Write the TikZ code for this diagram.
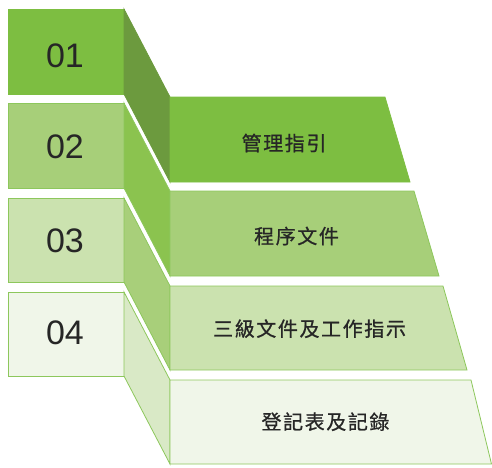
\documentclass[tikz,border=0pt]{standalone}
\usepackage{fontspec}
\setmainfont{Liberation Sans}
\newfontfamily\cjk[FakeBold=0.8]{Noto Sans CJK TC}
\newcommand\sgap{\hspace{1.6pt}}
\definecolor{fA}{HTML}{7DBE41}
\definecolor{sA}{HTML}{6C9A3E}
\definecolor{fB}{HTML}{A7CF79}
\definecolor{sB}{HTML}{8BC34F}
\definecolor{fC}{HTML}{CBE2AF}
\definecolor{sC}{HTML}{A8CF7A}
\definecolor{fD}{HTML}{F0F6E9}
\definecolor{sD}{HTML}{D9E9C6}
\definecolor{edge}{HTML}{8DC75C}
\definecolor{ink}{HTML}{262626}
\tikzset{
  face/.style={line width=0.8pt, line join=miter},
  numtext/.style={font=\fontsize{34}{34}\selectfont, text=ink, inner sep=0pt},
  cjktext/.style={font=\cjk\fontsize{20}{20}\selectfont, text=ink, inner sep=0pt},
}
\begin{document}
\begin{tikzpicture}[x=1pt,y=-1pt]
\useasboundingbox (0,0) rectangle (492,467);
% level 1
\draw[face, fill=fA, draw=fA] (8,9) rectangle (124,94);
\draw[face, fill=sA, draw=sA] (124,9) -- (170,97) -- (170,182) -- (124,94) -- cycle;
\draw[face, fill=fA, draw=fA] (170,97) -- (385,97) -- (410,182) -- (170,182) -- cycle;
% level 2
\draw[face, fill=fB, draw=edge] (8,103) rectangle (124,188);
\draw[face, fill=sB, draw=edge] (124,103) -- (170,191) -- (170,276) -- (124,188) -- cycle;
\draw[face, fill=fB, draw=edge] (170,191) -- (414,191) -- (439,276) -- (170,276) -- cycle;
% level 3
\draw[face, fill=fC, draw=edge] (8,198) rectangle (124,282);
\draw[face, fill=sC, draw=edge] (124,198) -- (170,286) -- (170,370) -- (124,282) -- cycle;
\draw[face, fill=fC, draw=edge] (170,286) -- (443,286) -- (467,370) -- (170,370) -- cycle;
% level 4
\draw[face, fill=fD, draw=edge] (8,292) rectangle (124,376);
\draw[face, fill=sD, draw=edge] (124,292) -- (170,380) -- (170,464) -- (124,376) -- cycle;
\draw[face, fill=fD, draw=edge] (170,380) -- (471,380) -- (491.5,464) -- (170,464) -- cycle;
% numbers
\node[numtext] (n1) at (65,55.5) {01};
\node[numtext] (n2) at (65,147) {02};
\node[numtext] (n3) at (65,241) {03};
\node[numtext] (n4) at (65,333) {04};
% labels
\node[cjktext] (t1) at (284,143) {管\sgap 理\sgap 指\sgap 引};
\node[cjktext] (t2) at (296.5,236) {程\sgap 序\sgap 文\sgap 件};
\node[cjktext] (t3) at (309.5,328.7) {三\sgap 級\sgap 文\sgap 件\sgap 及\sgap 工\sgap 作\sgap 指\sgap 示};
\node[cjktext] (t4) at (325.5,421.7) {登\sgap 記\sgap 表\sgap 及\sgap 記\sgap 錄};
\end{tikzpicture}
\end{document}
